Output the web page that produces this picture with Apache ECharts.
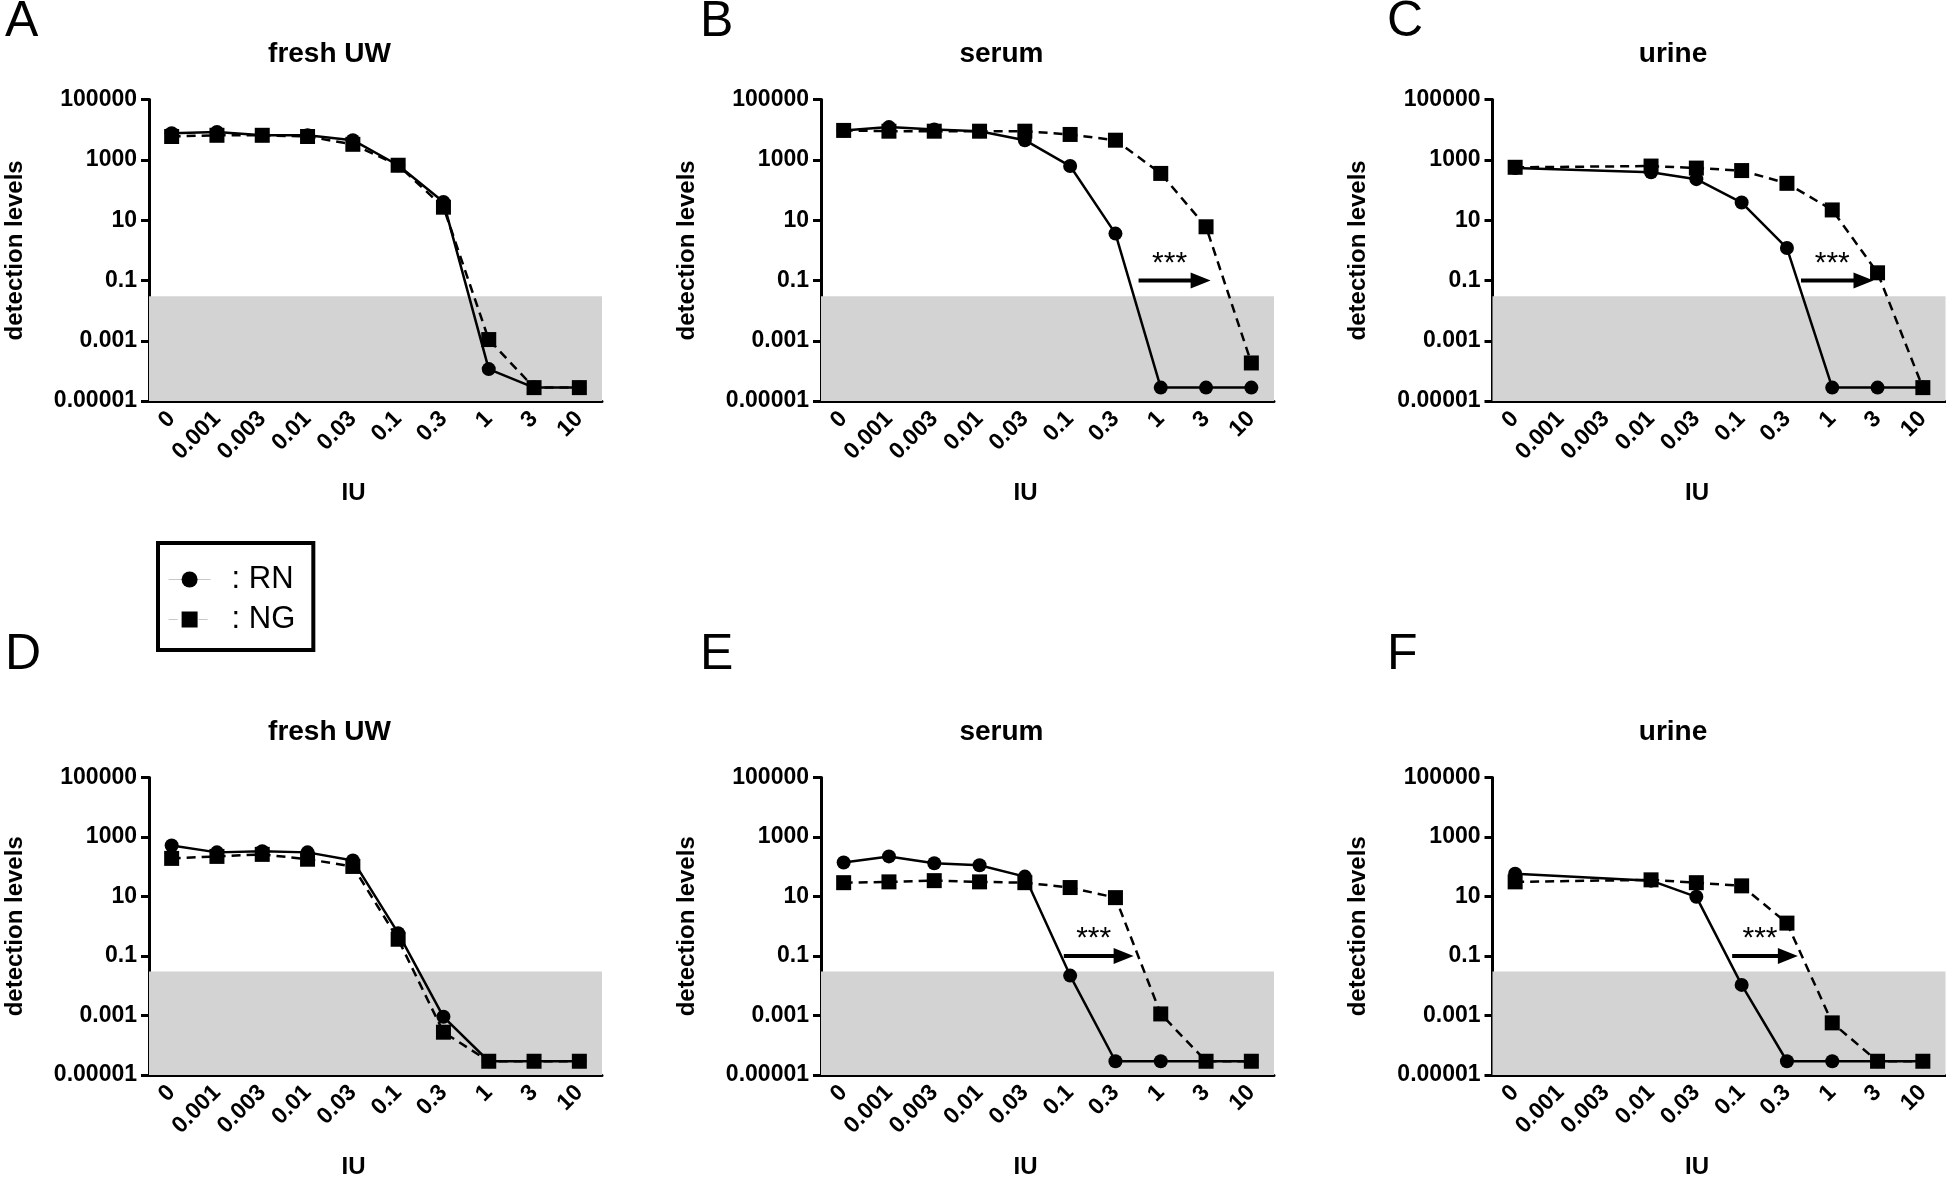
<!DOCTYPE html>
<html>
<head>
<meta charset="utf-8">
<script src="https://cdn.jsdelivr.net/npm/echarts@6/dist/echarts.min.js"></script>
<style>
  html, body { margin: 0; padding: 0; background: #fff; }
  #main { width: 1946px; height: 1180px; }
</style>
</head>
<body>
<div id="main"></div>
<script>
var doses = ["0", "0.001", "0.003", "0.01", "0.03", "0.1", "0.3", "1", "3", "10"];
var yTickValues = [-5, -3, -1, 1, 3, 5];
var yTickLabels = ["0.00001", "0.001", "0.1", "10", "1000", "100000"];
var panelLetters = ["A", "B", "C", "D", "E", "F"];
var panelTitles = ["fresh UW", "serum", "urine", "fresh UW", "serum", "urine"];

// detection levels per dose (null = dose not tested)
var rnA = [7650, 8400, 6550, 6550, 4500, 665, 40, 0.000115, 0.000028, 0.000028];
var ngA = [5970, 6550, 6550, 5970, 3290, 665, 27, 0.0011, 0.000028, 0.000028];
var rnB = [9500, 12250, 10150, 8960, 4500, 625, 3.6, 0.000028, 0.000028, 0.000028];
var ngB = [9500, 8960, 8960, 8960, 8960, 6980, 4500, 356, 6.05, 0.000184];
var rnC = [535, null, null, 391, 230, 38.5, 1.19, 0.000028, 0.000028, 0.000028];
var ngC = [569, null, null, 625, 535, 443, 167, 21.9, 0.18, 0.000028];
var rnD = [521, 306, 336, 306, 164, 0.587, 0.000906, 0.000029, 0.000029, 0.000029];
var ngD = [192, 224, 262, 180, 103, 0.367, 0.000275, 0.000029, 0.000029, 0.000029];
var rnE = [140, 224, 132, 113, 46.9, 0.022, 0.000029, 0.000029, 0.000029, 0.000029];
var ngE = [29.3, 31.2, 34.3, 31.2, 29.3, 20.1, 9.2, 0.00113, 0.000029, 0.000029];
var rnF = [58.3, null, null, 34.3, 9.8, 0.0107, 0.000029, 0.000029, 0.000029, 0.000029];
var ngF = [31.2, null, null, 36.5, 29.3, 22.9, 1.28, 0.000566, 0.000029, 0.000029];

// grey "below detection" band, and the *** shift arrows (x in dose-index units)
var bandTop = 0.03;
var arrowStart = [null, 6.51, 6.31, null, 4.86, 4.79];
var arrowEnd = [null, 7.88, 7.69, null, 6.18, 6.02];
var arrowLevel = 0.1;

var rnAll = [rnA, rnB, rnC, rnD, rnE, rnF];
var ngAll = [ngA, ngB, ngC, ngD, ngE, ngF];

var FONT = "'Liberation Sans', Arial, sans-serif";
var colLeft = [149, 821, 1492.5];
var rowTop = [99.6, 777.6];
var gridW = 453;
var gridH = 301.5;
var letterPos = [[5, -3], [700, -3], [1387, -3], [5, 630], [700, 630], [1387, 630]];

var buildOption = function () {
  var grids = [], xAxes = [], yAxes = [], series = [], titles = [];

  for (var k = 0; k < 6; k++) {
    var gx = colLeft[k % 3], gy = rowTop[Math.floor(k / 3)];

    grids.push({ left: gx, top: gy, width: gridW, height: gridH });

    xAxes.push({
      type: "category",
      gridIndex: k,
      data: doses,
      boundaryGap: true,
      name: "IU",
      nameLocation: "middle",
      nameGap: 80,
      nameTextStyle: { fontFamily: FONT, fontWeight: "bold", fontSize: 24, color: "#000", padding: [0, 44, 0, 0] },
      axisLine: { onZero: false, lineStyle: { color: "#000", width: 3 } },
      axisTick: { alignWithLabel: true, length: 8, lineStyle: { color: "#000", width: 3 } },
      axisLabel: { interval: 0, rotate: 45, margin: 14, fontFamily: FONT, fontWeight: "bold", fontSize: 23, color: "#000" },
      splitLine: { show: false }
    });
    xAxes.push({ type: "value", gridIndex: k, min: -0.5, max: 9.5, show: false, axisLine: { onZero: false } });

    yAxes.push({
      type: "value",
      gridIndex: k,
      min: -5,
      max: 5,
      interval: 2,
      name: "detection levels",
      nameLocation: "middle",
      nameGap: 122,
      nameTextStyle: { fontFamily: FONT, fontWeight: "bold", fontSize: 24, color: "#000" },
      axisLine: { show: true, onZero: false, lineStyle: { color: "#000", width: 3 } },
      axisTick: { show: true, length: 8, lineStyle: { color: "#000", width: 3 } },
      axisLabel: {
        margin: 12, fontFamily: FONT, fontWeight: "bold", fontSize: 23, color: "#000",
        formatter: function (v) {
          var i = yTickValues.indexOf(Math.round(v));
          return i >= 0 ? yTickLabels[i] : "";
        }
      },
      splitLine: { show: false }
    });
    yAxes.push({ type: "log", logBase: 10, gridIndex: k, min: 0.00001, max: 100000, show: false, axisLine: { onZero: false } });

    series.push({
      name: "RN",
      type: "line",
      xAxisIndex: 2 * k,
      yAxisIndex: 2 * k + 1,
      data: rnAll[k],
      connectNulls: true,
      symbol: "circle",
      symbolSize: 14,
      z: 3,
      lineStyle: { color: "#000", width: 2.5, type: "solid" },
      itemStyle: { color: "#000" },
      markArea: {
        silent: true,
        itemStyle: { color: "#d3d3d3", opacity: 1 },
        data: [[{ yAxis: 0.00001 }, { yAxis: bandTop }]]
      }
    });
    series.push({
      name: "NG",
      type: "line",
      xAxisIndex: 2 * k,
      yAxisIndex: 2 * k + 1,
      data: ngAll[k],
      connectNulls: true,
      symbol: "rect",
      symbolSize: 15,
      z: 4,
      lineStyle: { color: "#000", width: 2.5, type: [9, 6] },
      itemStyle: { color: "#000" }
    });

    if (arrowStart[k] != null) {
      var mid = (arrowStart[k] + arrowEnd[k]) / 2;
      series.push({
        type: "line",
        xAxisIndex: 2 * k + 1,
        yAxisIndex: 2 * k + 1,
        silent: true,
        z: 5,
        lineStyle: { color: "#000", width: 4 },
        itemStyle: { color: "#000" },
        data: [
          { value: [arrowStart[k], arrowLevel], symbol: "none" },
          { value: [mid, arrowLevel], symbol: "circle", symbolSize: 0.5,
            label: { show: true, position: "top", distance: 2, formatter: "***", fontFamily: FONT, fontSize: 30, color: "#000" } },
          { value: [arrowEnd[k], arrowLevel], symbol: "triangle", symbolSize: [16, 20], symbolRotate: -90 }
        ]
      });
    }

    titles.push({
      text: panelTitles[k],
      left: gx + gridW / 2 - 46,
      top: gy - 59,
      textAlign: "center",
      padding: 0,
      textStyle: { fontFamily: FONT, fontWeight: "bold", fontSize: 28, color: "#000" }
    });
    titles.push({
      text: panelLetters[k],
      left: letterPos[k][0],
      top: letterPos[k][1],
      padding: 0,
      textStyle: { fontFamily: FONT, fontWeight: "normal", fontSize: 50, color: "#000" }
    });
  }

  return {
    backgroundColor: "#fff",
    animation: false,
    title: titles,
    legend: {
      data: ["RN", "NG"],
      orient: "vertical",
      left: 158,
      top: 543,
      padding: [21, 18, 15, 10],
      itemGap: 9,
      itemWidth: 42,
      itemHeight: 20,
      borderColor: "#000",
      borderWidth: 4,
      formatter: ": {name}",
      selectedMode: false,
      lineStyle: { color: "#c8c8c8", width: 1.2 },
      textStyle: { fontFamily: FONT, fontSize: 31, color: "#000", padding: [0, 0, 0, 16] }
    },
    grid: grids,
    xAxis: xAxes,
    yAxis: yAxes,
    series: series
  };
};

var myChart = echarts.init(document.getElementById("main"));
var option = buildOption();
option && myChart.setOption(option);
</script>
</body>
</html>
